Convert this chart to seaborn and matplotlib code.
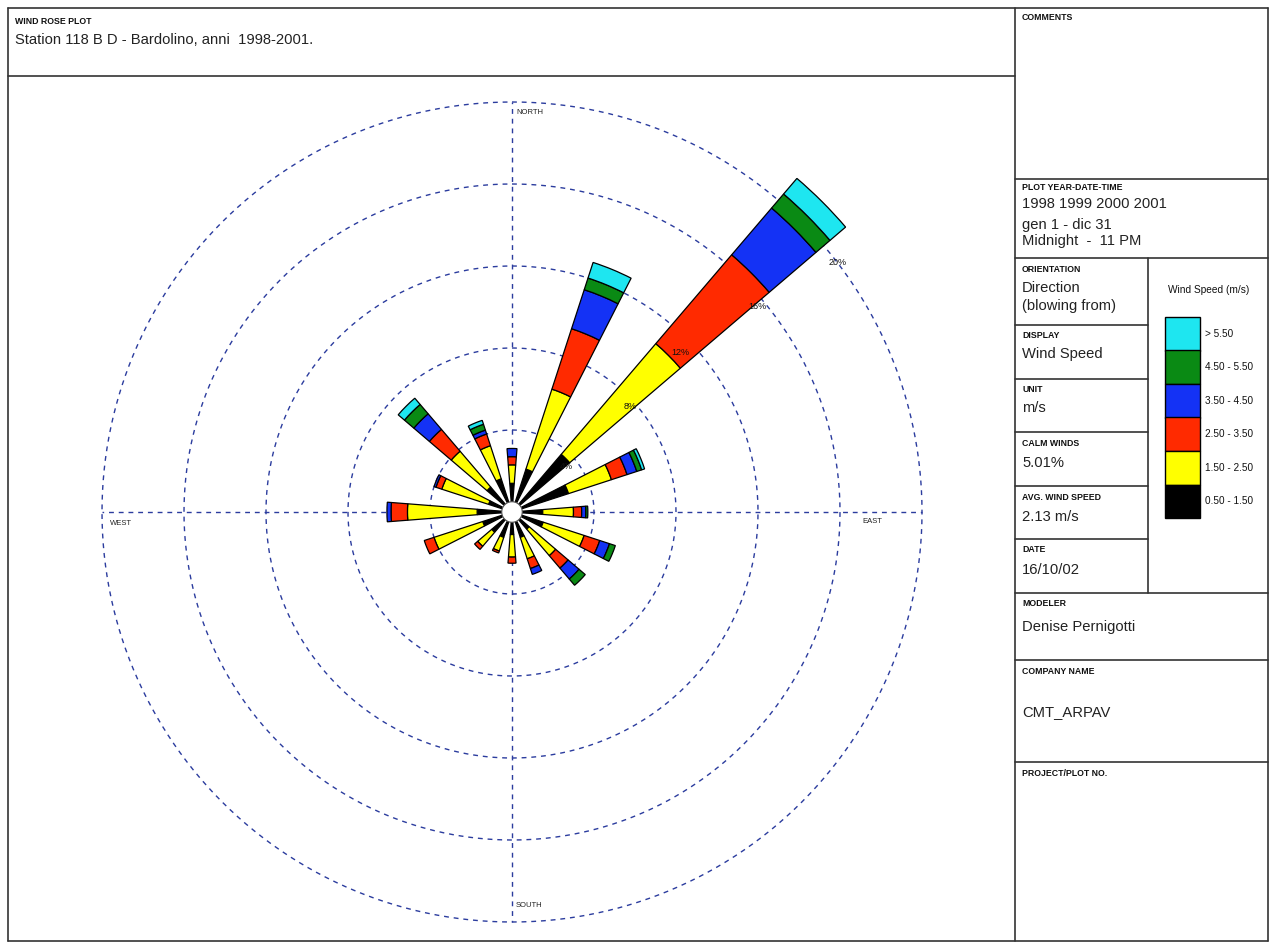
import numpy as np
import matplotlib
matplotlib.use("Agg")
import matplotlib.pyplot as plt
from matplotlib.lines import Line2D
from matplotlib.patches import Rectangle
import seaborn as sns

# ---- wind rose data: frequency (%) per direction and speed class ----
directions = ["N", "NNE", "NE", "ENE", "E", "ESE", "SE", "SSE",
              "S", "SSW", "SW", "WSW", "W", "WNW", "NW", "NNW"]
bearings = [0.0, 22.5, 45.0, 67.5, 90.0, 112.5, 135.0, 157.5,
            180.0, 202.5, 225.0, 247.5, 270.0, 292.5, 315.0, 337.5]

speed_classes = ["0.50 - 1.50", "1.50 - 2.50", "2.50 - 3.50",
                 "3.50 - 4.50", "4.50 - 5.50", "> 5.50"]

freq_050_150 = [1.4, 2.2, 3.7, 2.9, 1.5, 1.6, 1.1, 1.3, 1.1, 1.3, 1.3, 1.5, 1.7, 1.2, 1.6, 1.7]
freq_150_250 = [0.9, 4.1, 7.1, 2.2, 1.5, 2.1, 1.7, 1.1, 1.1, 0.7, 0.9, 2.5, 3.4, 2.4, 2.3, 1.7]
freq_250_350 = [0.4, 3.1, 5.7, 0.8, 0.4, 0.8, 0.8, 0.5, 0.3, 0.1, 0.2, 0.5, 0.8, 0.3, 1.4, 0.6]
freq_350_450 = [0.4, 2.0, 3.0, 0.5, 0.2, 0.5, 0.7, 0.3, 0.0, 0.0, 0.0, 0.0, 0.2, 0.1, 1.0, 0.2]
freq_450_550 = [0.0, 0.6, 0.9, 0.25, 0.1, 0.3, 0.4, 0.0, 0.0, 0.0, 0.0, 0.0, 0.0, 0.0, 0.6, 0.3]
freq_gt_550 = [0.0, 0.8, 1.0, 0.15, 0.0, 0.0, 0.0, 0.0, 0.0, 0.0, 0.0, 0.0, 0.0, 0.0, 0.4, 0.2]

class_colors = ["#000000", "#ffff00", "#ff2a00", "#1432f5", "#0a8a14", "#1ee6f0"]

ring_values = [4, 8, 12, 16, 20]
ring_labels = ["4%", "8%", "12%", "16%", "20%"]
calm_pct = 5.01

sns.set_theme(style="white")
plt.rcParams["font.family"] = ["Liberation Sans", "DejaVu Sans"]

W, H = 1269, 942
fig = plt.figure(figsize=(W / 100, H / 100), dpi=100)
fig.patch.set_facecolor("white")


def fx(x):
    return x / W


def fy(y):
    return 1 - y / H


# ---- polar wind rose ----
cx, cy, R = 512, 512, 410
ax = fig.add_axes([fx(cx - R), fy(cy + R), 2 * R / W, 2 * R / H], projection="polar")
ax.set_theta_zero_location("N")
ax.set_theta_direction(-1)
ax.set_ylim(0, ring_values[-1])
ax.set_axis_off()

grid_kw = dict(color="#2b3c9e", lw=1.0, ls=(0, (3.5, 3.5)), zorder=1, clip_on=False)
t = np.linspace(0, 2 * np.pi, 721)
for rv in ring_values:
    ax.plot(t, np.full_like(t, rv), **grid_kw)
for ang in (0, np.pi / 2, np.pi, 3 * np.pi / 2):
    ax.plot([ang, ang], [0, ring_values[-1]], **grid_kw)

theta = np.deg2rad(bearings)
width = np.deg2rad(9.0)
palette = sns.color_palette(class_colors)
series = [freq_050_150, freq_150_250, freq_250_350, freq_350_450, freq_450_550, freq_gt_550]
bottom = np.zeros(len(directions))
for vals, col in zip(series, palette):
    vals = np.asarray(vals, dtype=float)
    mask = vals > 0
    ax.bar(theta[mask], vals[mask], width=width, bottom=bottom[mask],
           color=col, edgecolor="black", linewidth=0.9, zorder=3, clip_on=False)
    bottom += vals

# calm circle at the centre
ax.fill(t, np.full_like(t, 0.5), facecolor="white", edgecolor="#555555", lw=0.8, zorder=5)

# ring percentage labels, set along the north-east diagonal
label_spots = [(49.6, 3.46), (48.1, 7.74), (46.6, 11.3), (50.0, 15.6), (52.6, 20.0)]
for (brg, rad), lab in zip(label_spots, ring_labels):
    ax.text(np.deg2rad(brg), rad, lab, fontsize=6.5, ha="center", va="center",
            color="#111111", zorder=6, clip_on=False)

# compass labels
ax.text(np.deg2rad(0.6), 19.5, "NORTH", fontsize=5.5, ha="left", va="center", color="#222222")
ax.text(np.deg2rad(179.4), 19.2, "SOUTH", fontsize=5.5, ha="left", va="center", color="#222222")
ax.text(np.deg2rad(268.4), 19.6, "WEST", fontsize=5.5, ha="left", va="center", color="#222222")
ax.text(np.deg2rad(91.6), 17.1, "EAST", fontsize=5.5, ha="left", va="center", color="#222222")

# ---- frame lines ----
frame_kw = dict(color="#333333", lw=1.2)


def seg(x0, y0, x1, y1):
    fig.add_artist(Line2D([fx(x0), fx(x1)], [fy(y0), fy(y1)], **frame_kw))


seg(8, 8, 1268, 8)
seg(8, 941, 1268, 941)
seg(8, 8, 8, 941)
seg(1268, 8, 1268, 941)
seg(8, 76, 1015, 76)
seg(1015, 8, 1015, 941)
for yy in (179, 258, 593, 660, 762):
    seg(1015, yy, 1268, yy)
for yy in (325, 379, 432, 486, 539):
    seg(1015, yy, 1148, yy)
seg(1148, 258, 1148, 593)

# ---- header and information panel text ----
head_kw = dict(fontsize=6.3, fontweight="bold", color="#111111", ha="left", va="center")
val_kw = dict(fontsize=10.6, color="#222222", ha="left", va="center")

fig.text(fx(15), fy(21), "WIND ROSE PLOT", **head_kw)
fig.text(fx(15), fy(40), "Station 118 B D - Bardolino, anni  1998-2001.", **val_kw)

fig.text(fx(1022), fy(18), "COMMENTS", **head_kw)
fig.text(fx(1022), fy(188), "PLOT YEAR-DATE-TIME", **head_kw)
fig.text(fx(1022), fy(204), "1998 1999 2000 2001", **val_kw)
fig.text(fx(1022), fy(225), "gen 1 - dic 31", **val_kw)
fig.text(fx(1022), fy(241), "Midnight  -  11 PM", **val_kw)
fig.text(fx(1022), fy(269), "ORIENTATION", **head_kw)
fig.text(fx(1022), fy(288), "Direction", **val_kw)
fig.text(fx(1022), fy(306), "(blowing from)", **val_kw)
fig.text(fx(1022), fy(336), "DISPLAY", **head_kw)
fig.text(fx(1022), fy(354), "Wind Speed", **val_kw)
fig.text(fx(1022), fy(389), "UNIT", **head_kw)
fig.text(fx(1022), fy(408), "m/s", **val_kw)
fig.text(fx(1022), fy(443), "CALM WINDS", **head_kw)
fig.text(fx(1022), fy(463), f"{calm_pct:.2f}%", **val_kw)
fig.text(fx(1022), fy(497), "AVG. WIND SPEED", **head_kw)
fig.text(fx(1022), fy(517), "2.13 m/s", **val_kw)
fig.text(fx(1022), fy(550), "DATE", **head_kw)
fig.text(fx(1022), fy(570), "16/10/02", **val_kw)
fig.text(fx(1022), fy(604), "MODELER", **head_kw)
fig.text(fx(1022), fy(627), "Denise Pernigotti", **val_kw)
fig.text(fx(1022), fy(672), "COMPANY NAME", **head_kw)
fig.text(fx(1022), fy(712), "CMT_ARPAV", **val_kw)
fig.text(fx(1022), fy(774), "PROJECT/PLOT NO.", **head_kw)

# ---- speed legend ----
fig.text(fx(1209), fy(290), "Wind Speed (m/s)", fontsize=7.3, color="#111111",
         ha="center", va="center")
box_top, box_h = 317, 33.5
for i, (lab, col) in enumerate(zip(speed_classes[::-1], list(palette)[::-1])):
    y0 = box_top + i * box_h
    fig.add_artist(Rectangle((fx(1165), fy(y0 + box_h)), 35 / W, box_h / H,
                             facecolor=col, edgecolor="black", lw=1.0))
    fig.text(fx(1205), fy(y0 + box_h / 2), lab, fontsize=7.2, color="#111111",
             ha="left", va="center")

fig.savefig("out.png", dpi=100, facecolor="white")
